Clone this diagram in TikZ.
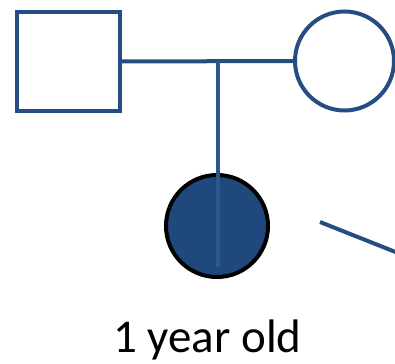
\documentclass[tikz,border=0pt]{standalone}
\usepackage{fontspec}
\setmainfont{Carlito}
\definecolor{pedline}{RGB}{38,77,130}
\definecolor{pedfill}{RGB}{31,73,125}
\definecolor{pedinner}{RGB}{45,86,140}
\begin{document}
\begin{tikzpicture}[x=1pt,y=-1pt,
  person/.style={draw=pedline,line width=4pt,fill=white,inner sep=0pt},
  link/.style={draw=pedline,line width=4pt},
]
\useasboundingbox (0,0) rectangle (395,363);
\node[person,rectangle,minimum width=103pt,minimum height=99pt] (father) at (68.5,61.5) {};
\node[person,circle,minimum size=99pt] (mother) at (344.5,61) {};
\node[circle,draw=black,line width=4pt,fill=pedfill,minimum size=102pt,inner sep=0pt] (child) at (217,226) {};
\draw[link] (father.east) -- coordinate[pos=0.56] (mid) (mother.west);
\coordinate (inner) at (218,267);
\draw[draw=pedinner,line width=3.5pt] (mid) -- (mid |- inner);
\coordinate (d1) at (320,222);
\coordinate (d2) at (398,253);
\draw[link] (d1) -- (d2);
\node[anchor=base,font=\fontsize{47}{50}\selectfont,inner sep=0pt] (age) at (207.5,352) {1 year old};
\end{tikzpicture}
\end{document}
